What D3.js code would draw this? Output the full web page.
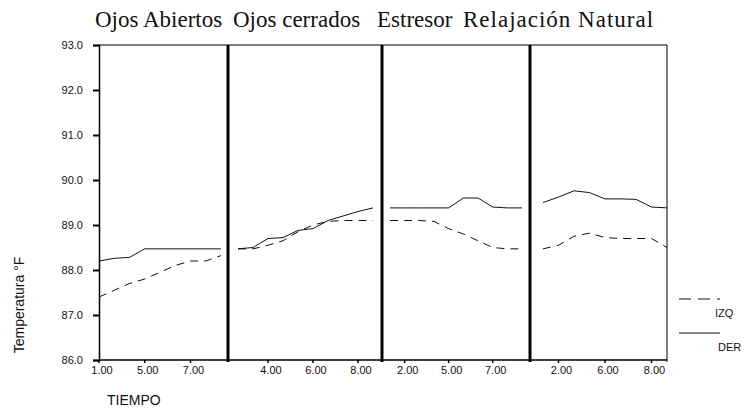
<!DOCTYPE html>
<meta charset="utf-8">
<html>
<head>
<style>
body { margin: 0; background: #fff; }
.tick-label { font: 11px "Liberation Sans", Arial, sans-serif; fill: #111; }
.title { font: 23px "Liberation Serif", "Times New Roman", serif; fill: #111; }
</style>
</head>
<body>
<script src="https://d3js.org/d3.v7.min.js"></script>
<script>

// panel titles
var titles = ["Ojos Abiertos", "Ojos cerrados", "Estresor", "Relajación Natural"];

// temperature per time point (°F), one array per panel
var izq1 = [87.4, 87.55, 87.7, 87.8, 87.95, 88.1, 88.2, 88.2, 88.32];
var der1 = [88.2, 88.26, 88.28, 88.47, 88.47, 88.47, 88.47, 88.47, 88.47];
var izq2 = [88.47, 88.47, 88.55, 88.65, 88.85, 89.0, 89.08, 89.1, 89.1, 89.1];
var der2 = [88.47, 88.5, 88.7, 88.72, 88.88, 88.92, 89.1, 89.2, 89.3, 89.38];
var izq3 = [89.1, 89.1, 89.1, 89.08, 88.92, 88.8, 88.65, 88.5, 88.47, 88.47];
var der3 = [89.38, 89.38, 89.38, 89.38, 89.38, 89.6, 89.6, 89.4, 89.38, 89.38];
var izq4 = [88.47, 88.55, 88.75, 88.82, 88.72, 88.7, 88.7, 88.7, 88.5];
var der4 = [89.5, 89.62, 89.76, 89.72, 89.58, 89.58, 89.57, 89.4, 89.38];

// time tick labels per panel (blank = not shown)
var ticks1 = ["1.00", "", "", "5.00", "", "", "7.00", "", ""];
var ticks2 = ["", "", "4.00", "", "", "6.00", "", "", "8.00", ""];
var ticks3 = ["", "2.00", "", "", "5.00", "", "", "7.00", "", ""];
var ticks4 = ["", "2.00", "", "", "6.00", "", "", "8.00", ""];

var yTicks = [86, 87, 88, 89, 90, 91, 92, 93];

var panels = [
  {title: titles[0], izq: izq1, der: der1, ticks: ticks1, x1: 228, p0: 99, p1: 221, tx: 95, ls: 0},
  {title: titles[1], izq: izq2, der: der2, ticks: ticks2, x1: 382, p0: 238, p1: 373, tx: 233, ls: 0},
  {title: titles[2], izq: izq3, der: der3, ticks: ticks3, x1: 530, p0: 390, p1: 522, tx: 377, ls: 0},
  {title: titles[3], izq: izq4, der: der4, ticks: ticks4, x1: 667, p0: 543, p1: 667, tx: 463, ls: 1}
];

var width = 750, height = 408;
var yTop = 45, yBottom = 360;

var svg = d3.select("body").append("svg")
  .attr("width", width)
  .attr("height", height);

var y = d3.scaleLinear().domain([86, 93]).range([yBottom, yTop]);

// y axis
svg.append("g")
  .attr("transform", "translate(99,0)")
  .call(d3.axisLeft(y).tickValues(yTicks).tickSize(6).tickPadding(10).tickFormat(d3.format(".1f")))
  .call(function(g) {
    g.select(".domain").attr("stroke-width", 1.5);
    g.selectAll(".tick line").attr("stroke-width", 2);
    g.selectAll(".tick text").attr("class", "tick-label");
  });
svg.selectAll("g").attr("font-family", null).attr("font-size", null);

// top and bottom frame
svg.append("line").attr("x1", 99).attr("x2", 667).attr("y1", yTop).attr("y2", yTop)
  .attr("stroke", "#000").attr("stroke-width", 1);
svg.append("line").attr("x1", 99).attr("x2", 667).attr("y1", yBottom).attr("y2", yBottom)
  .attr("stroke", "#000").attr("stroke-width", 1.5);

panels.forEach(function(p, i) {
  var idx = d3.range(p.izq.length);
  var x = d3.scalePoint().domain(idx).range([p.p0, p.p1]);

  var line = d3.line()
    .x(function(d, j) { return x(j); })
    .y(function(d) { return y(d); });

  svg.append("path").datum(p.der)
    .attr("d", line).attr("fill", "none")
    .attr("stroke", "#111").attr("stroke-width", 1);

  svg.append("path").datum(p.izq)
    .attr("d", line).attr("fill", "none")
    .attr("stroke", "#111").attr("stroke-width", 1)
    .attr("stroke-dasharray", "8,6");

  // divider / right border
  svg.append("line")
    .attr("x1", p.x1).attr("x2", p.x1).attr("y1", yTop).attr("y2", yBottom + 2)
    .attr("stroke", "#000").attr("stroke-width", i < 3 ? 3 : 1);

  var labelled = idx.filter(function(j) { return p.ticks[j] !== ""; });

  svg.selectAll(null).data(labelled).enter().append("line")
    .attr("x1", function(j) { return x(j); }).attr("x2", function(j) { return x(j); })
    .attr("y1", yBottom).attr("y2", yBottom + 3)
    .attr("stroke", "#000").attr("stroke-width", 1.5);

  svg.selectAll(null).data(labelled).enter().append("text")
    .attr("class", "tick-label")
    .attr("x", function(j) { return x(j) + 3; })
    .attr("y", 374)
    .attr("text-anchor", "middle")
    .text(function(j) { return p.ticks[j]; });

  svg.append("text")
    .attr("class", "title")
    .attr("x", p.tx).attr("y", 27)
    .style("letter-spacing", p.ls + "px")
    .text(p.title);
});

// axis titles
svg.append("text")
  .attr("transform", "translate(24,305) rotate(-90)")
  .attr("text-anchor", "middle")
  .style("font", "14px 'Liberation Sans', Arial, sans-serif")
  .attr("fill", "#111")
  .text("Temperatura     °F");

svg.append("text")
  .attr("x", 107).attr("y", 405)
  .style("font", "14px 'Liberation Sans', Arial, sans-serif")
  .attr("fill", "#111")
  .text("TIEMPO");

// legend
var legend = [
  {name: "IZQ", dash: "12,7", y: 299},
  {name: "DER", dash: null, y: 333}
];
legend.forEach(function(l) {
  svg.append("line")
    .attr("x1", 679).attr("x2", 720).attr("y1", l.y).attr("y2", l.y)
    .attr("stroke", "#111").attr("stroke-width", 1.2)
    .attr("stroke-dasharray", l.dash);
  svg.append("text")
    .attr("class", "tick-label")
    .attr("x", l.name === "IZQ" ? 715 : 718).attr("y", l.y + 18)
    .text(l.name);
});

</script>
</body>
</html>
